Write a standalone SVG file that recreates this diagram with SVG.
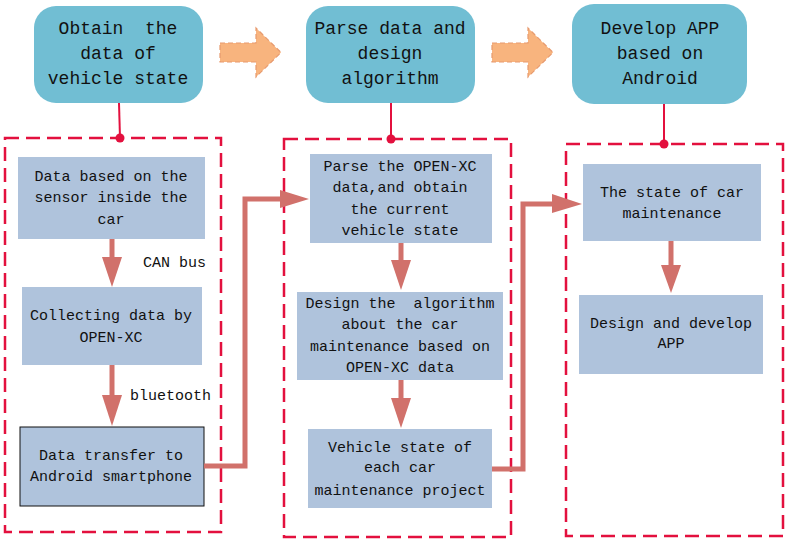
<svg xmlns="http://www.w3.org/2000/svg" width="788" height="542" viewBox="0 0 788 542">
<style>
text{white-space:pre;}
.top{fill:#71BED3;}
.box{fill:#AFC3DC;}
.t18{font-family:"Liberation Mono",monospace;font-size:18px;fill:#111;text-anchor:middle;}
.t15{font-family:"Liberation Mono",monospace;font-size:15px;fill:#111;text-anchor:middle;}
.lbl{font-family:"Liberation Mono",monospace;font-size:15px;fill:#111;}
.cont{fill:none;stroke:#E3103E;stroke-width:2.5;stroke-dasharray:14 7;}
.stem{fill:none;stroke:#E3103E;stroke-width:2;}
.dot{fill:#E3103E;}
.conn{fill:none;stroke:#D1716B;stroke-width:5;}
.head{fill:#D1716B;}
.blk{fill:#F8B47E;stroke:#E79A6E;stroke-width:1.2;stroke-dasharray:5 3;}
</style>
<rect width="788" height="542" fill="#fff"/>

<!-- containers -->
<g id="containers">
<rect class="cont" x="5" y="138" width="216" height="394"/>
<rect class="cont" x="284" y="139" width="227" height="398"/>
<rect class="cont" x="566" y="144" width="217" height="392"/>
<line class="stem" x1="119" y1="103" x2="120" y2="138"/>
<line class="stem" x1="391" y1="103" x2="391" y2="139"/>
<line class="stem" x1="664" y1="104" x2="664" y2="144"/>
<circle class="dot" cx="120" cy="138" r="4.5"/>
<circle class="dot" cx="391" cy="139" r="4.5"/>
<circle class="dot" cx="664" cy="144" r="4.5"/>
</g>

<!-- top nodes -->
<g id="top1">
<rect class="top" x="34" y="6" width="169" height="97" rx="22"/>
<text class="t18" x="118" y="34" xml:space="preserve">Obtain  the</text>
<text class="t18" x="118" y="59">data of</text>
<text class="t18" x="118" y="84">vehicle state</text>
</g>
<g id="top2">
<rect class="top" x="306" y="6" width="169" height="97" rx="22"/>
<text class="t18" x="390" y="34">Parse data and</text>
<text class="t18" x="390" y="59">design</text>
<text class="t18" x="390" y="84">algorithm</text>
</g>
<g id="top3">
<rect class="top" x="572" y="4" width="175" height="100" rx="22"/>
<text class="t18" x="660" y="34">Develop APP</text>
<text class="t18" x="660" y="59">based on</text>
<text class="t18" x="660" y="84">Android</text>
</g>
<g id="blockArrows">
<path class="blk" d="M220 43 H256 V28 L281 52.5 L256 77 V62 H220 Z"/>
<path class="blk" d="M492 43 H528 V28 L553 52.5 L528 77 V62 H492 Z"/>
</g>

<!-- inner nodes -->
<g id="n1">
<rect class="box" x="18" y="157" width="187" height="82"/>
<text class="t15" x="111" y="181">Data based on the</text>
<text class="t15" x="111" y="202">sensor inside the</text>
<text class="t15" x="111" y="224">car</text>
</g>
<g id="n2">
<rect class="box" x="22" y="287" width="180" height="78"/>
<text class="t15" x="111" y="320">Collecting data by</text>
<text class="t15" x="111" y="342">OPEN-XC</text>
</g>
<g id="n3">
<rect class="box" x="20" y="427" width="184" height="79" stroke="#111" stroke-width="1"/>
<text class="t15" x="111" y="460">Data transfer to</text>
<text class="t15" x="111" y="481">Android smartphone</text>
</g>
<g id="n4">
<rect class="box" x="310" y="154" width="182" height="89"/>
<text class="t15" x="400" y="171">Parse the OPEN-XC</text>
<text class="t15" x="400" y="192">data,and obtain</text>
<text class="t15" x="400" y="214">the current</text>
<text class="t15" x="400" y="235">vehicle state</text>
</g>
<g id="n5">
<rect class="box" x="297" y="292" width="206" height="88"/>
<text class="t15" x="400" y="308" xml:space="preserve">Design the  algorithm</text>
<text class="t15" x="400" y="329">about the car</text>
<text class="t15" x="400" y="351">maintenance based on</text>
<text class="t15" x="400" y="372">OPEN-XC data</text>
</g>
<g id="n6">
<rect class="box" x="308" y="429" width="184" height="79"/>
<text class="t15" x="400" y="452">Vehicle state of</text>
<text class="t15" x="400" y="472">each car</text>
<text class="t15" x="400" y="495">maintenance project</text>
</g>
<g id="n7">
<rect class="box" x="583" y="164" width="178" height="77"/>
<text class="t15" x="672" y="197">The state of car</text>
<text class="t15" x="672" y="218">maintenance</text>
</g>
<g id="n8">
<rect class="box" x="579" y="295" width="184" height="79"/>
<text class="t15" x="671" y="328">Design and develop</text>
<text class="t15" x="671" y="348">APP</text>
</g>

<!-- connectors -->
<g id="connectors">
<line class="conn" x1="112" y1="239" x2="112" y2="259"/>
<path class="head" d="M102 257 H122 L112 287 Z"/>
<text class="lbl" x="143" y="267">CAN bus</text>
<line class="conn" x1="112" y1="365" x2="112" y2="397"/>
<path class="head" d="M102 395 H122 L112 426 Z"/>
<text class="lbl" x="130" y="400">bluetooth</text>
<polyline class="conn" points="204,466 245,466 245,199 282,199"/>
<path class="head" d="M280 190 L309 199 L280 208 Z"/>
<line class="conn" x1="401" y1="243" x2="401" y2="262"/>
<path class="head" d="M391 260 H411 L401 290 Z"/>
<line class="conn" x1="401" y1="380" x2="401" y2="400"/>
<path class="head" d="M391 398 H411 L401 428 Z"/>
<polyline class="conn" points="492,469 523,469 523,204 554,204"/>
<path class="head" d="M552 194 L582 204 L552 213 Z"/>
<line class="conn" x1="671" y1="241" x2="671" y2="267"/>
<path class="head" d="M661 265 H681 L671 293 Z"/>
</g>
</svg>
